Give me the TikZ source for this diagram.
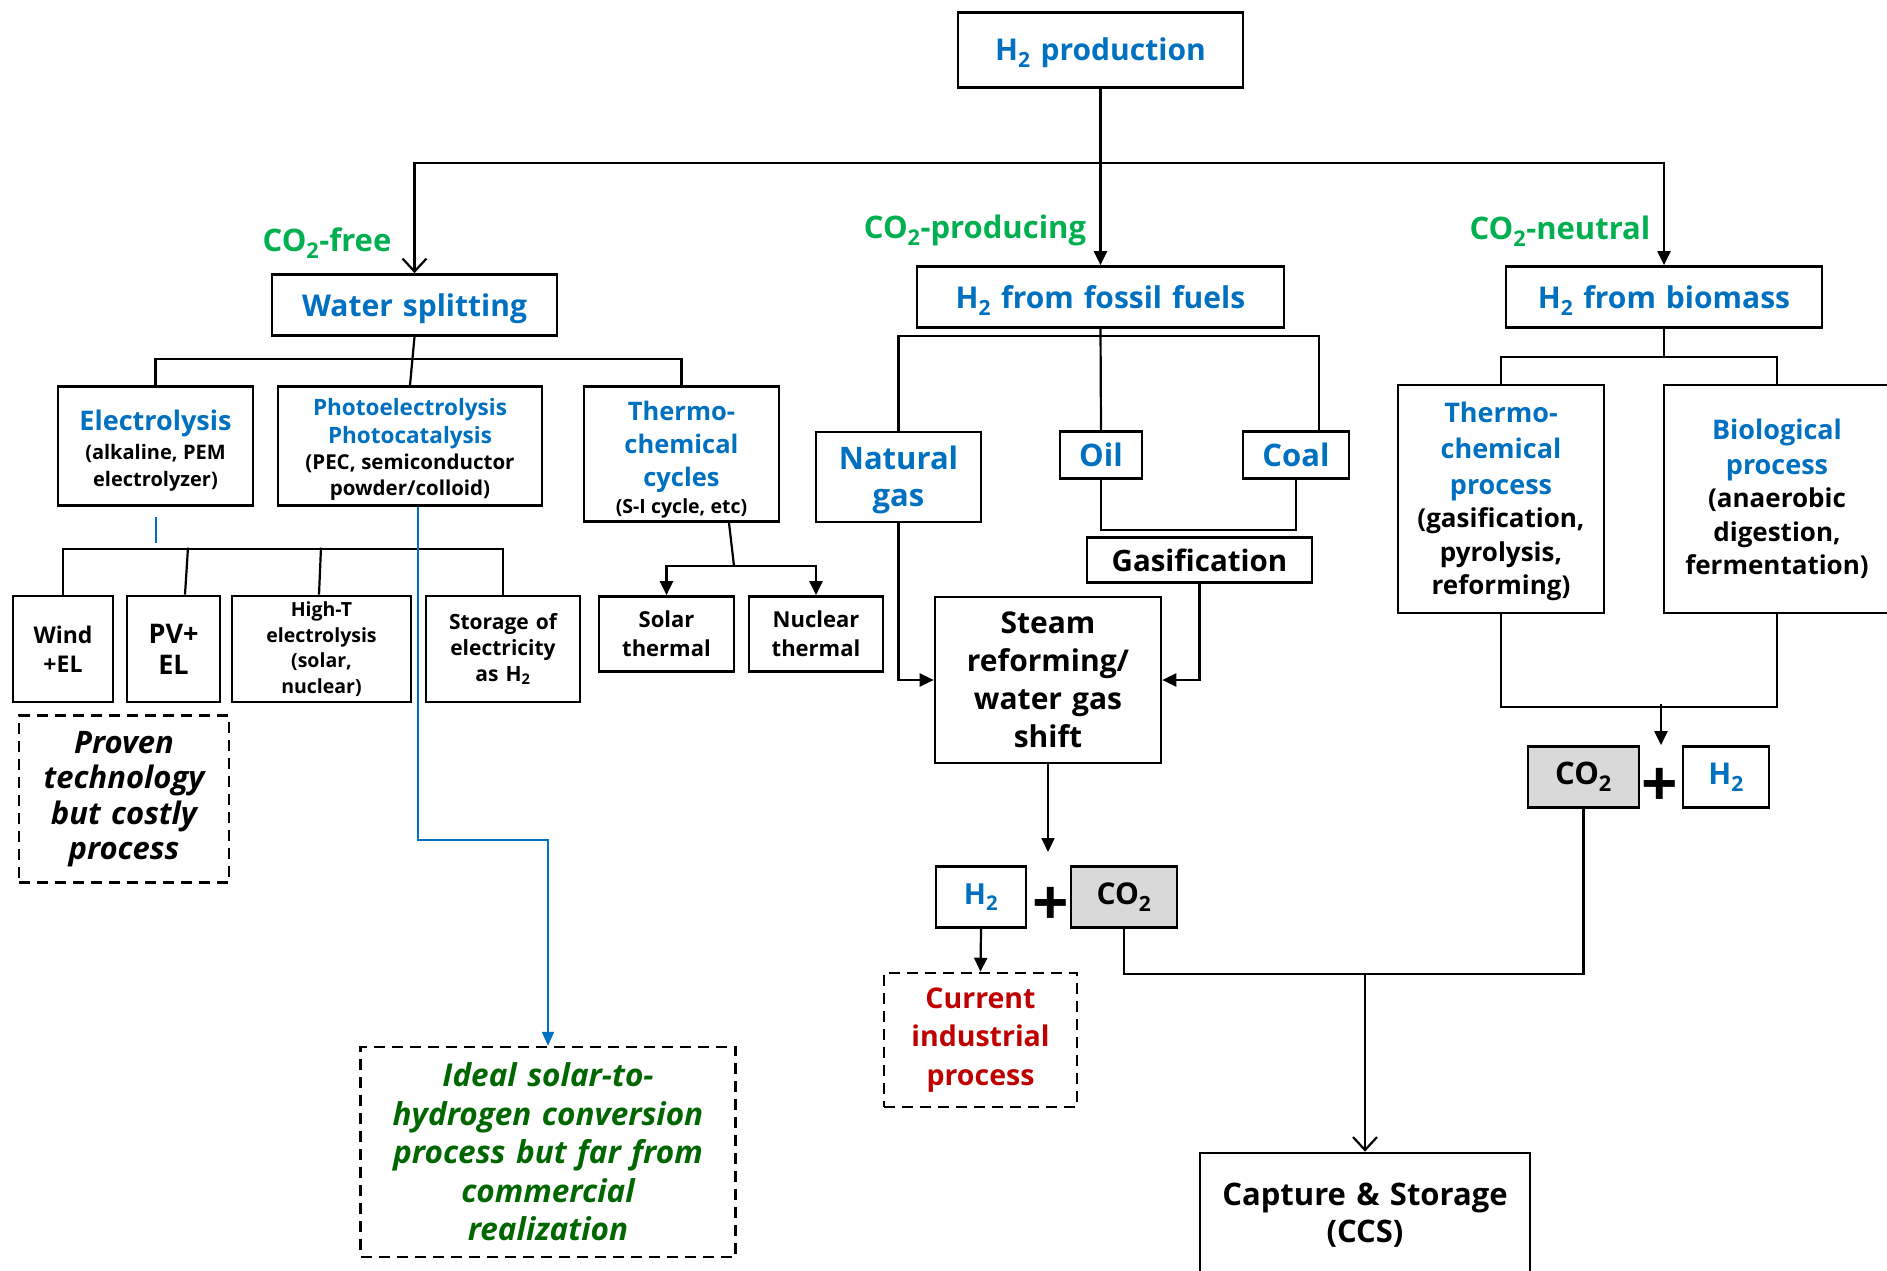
\documentclass[tikz,border=0pt]{standalone}
\usepackage{fontspec}
\setmainfont{Open Sans}
\usetikzlibrary{arrows.meta}
\definecolor{tblue}{HTML}{0070C0}
\definecolor{tgreen}{HTML}{00B050}
\definecolor{dgreen}{HTML}{006600}
\definecolor{tred}{HTML}{C00000}
\definecolor{cgray}{HTML}{D9D9D9}
\newcommand{\fsz}[2]{\fontsize{#1}{#2}\selectfont\spaceskip=0.27em\xspaceskip=0.27em\relax}
\newcommand{\up}[1]{\rule{0pt}{#1pt}}
\begin{document}
\begin{tikzpicture}[x=1pt,y=-1pt,
  box/.style={draw, line width=2.7pt, inner sep=0pt, align=center},
  wh/.style 2 args={minimum width=#1pt, minimum height=#2pt, text width=#1pt},
  dbox/.style={draw, line width=2.5pt, dash pattern=on 11pt off 7pt, inner sep=0pt, align=center},
  conn/.style={line width=2.2pt},
  arr/.style={conn, -{Triangle[length=14pt,width=13pt]}},
  varr/.style={conn, -{Straight Barb[length=13pt,width=24pt,line width=2.2pt]}},
  bl/.style={line width=2pt, draw=tblue},
  blarr/.style={bl, -{Triangle[length=14pt,width=12pt]}},
  lab/.style={text=tgreen, font=\bfseries\fsz{31}{36}},
  plus/.style={font=\bfseries\fsz{64}{64}, inner sep=0pt}
]
\useasboundingbox (0,0) rectangle (1887,1271);
\fill[white] (0,0) rectangle (1887,1271);

% ---- top level
\node[box, wh={285}{75}, text=tblue, font=\bfseries\fsz{30}{36}] (prod) at (1100.5,50) {\up{29}H\textsubscript{2} production};
\node[box, wh={285}{61}, text=tblue, font=\bfseries\fsz{30}{36}] (ws) at (414.5,305) {\up{30}Water splitting};
\node[box, wh={367}{61}, text=tblue, font=\bfseries\fsz{30}{36}] (ff) at (1100.5,297) {\up{30}H\textsubscript{2} from fossil fuels};
\node[box, wh={316}{61}, text=tblue, font=\bfseries\fsz{30}{36}] (bm) at (1664,297) {\up{30}H\textsubscript{2} from biomass};

\node[lab] (lfree) at (327,243) {CO\textsubscript{2}-free};
\node[lab] (lprod) at (975,230) {CO\textsubscript{2}-producing};
\node[lab] (lneut) at (1560,231) {CO\textsubscript{2}-neutral};

% ---- water splitting branch
\node[box, wh={195}{119}, text=tblue, font=\bfseries\fsz{27}{32}] (el) at (155.5,446)
  {\up{30}Electrolysis\par\vspace{2pt}\color{black}\fsz{20}{27}(alkaline, PEM\par electrolyzer)\par};
\node[box, wh={264}{119}, text=tblue, font=\bfseries\fsz{22.5}{28}] (pe) at (410,446)
  {\up{24}Photoelectrolysis\par Photocatalysis\par\color{black}\fsz{20.5}{26}(PEC, semiconductor\par powder/colloid)\par};
\node[box, wh={195}{135}, text=tblue, font=\bfseries\fsz{25.5}{33}] (tc) at (681.5,454)
  {\up{31}Thermo-\par chemical\par cycles\par\color{black}\fsz{19.5}{27}(S-I cycle, etc)\par};

\node[box, wh={100}{106}, font=\bfseries\fsz{23}{29}] (wind) at (63,649) {Wind\par +EL};
\node[box, wh={93}{106}, font=\bfseries\fsz{27}{31}] (pv) at (173.5,649) {PV+\par EL};
\node[box, wh={179}{106}, font=\bfseries\fsz{19.5}{25.5}] (ht) at (321.5,649) {High-T\par electrolysis\par (solar,\par nuclear)};
\node[box, wh={154}{106}, font=\bfseries\fsz{21}{26}] (st) at (503,649) {Storage of\par electricity\par as H\textsubscript{2}};

\node[dbox, minimum width=210pt, minimum height=167pt, text width=210pt, font=\bfseries\itshape\fsz{31}{35.5}] (proven) at (124,799)
  {Proven\par technology\par but costly\par process};
\node[dbox, minimum width=375pt, minimum height=210pt, text width=375pt, text=dgreen, font=\bfseries\itshape\fsz{31.5}{38.5}] (ideal) at (548,1152)
  {Ideal solar-to-\par hydrogen conversion\par process but far from\par commercial\par realization};

\node[box, wh={135}{75}, font=\bfseries\fsz{22}{29}] (solar) at (666.5,634) {Solar\par thermal};
\node[box, wh={134}{75}, font=\bfseries\fsz{22}{29}] (nuc) at (816,634) {Nuclear\par thermal};

% ---- fossil branch
\node[box, wh={165}{90}, text=tblue, font=\bfseries\fsz{31}{37}] (ng) at (898.5,477) {\up{30}Natural\par gas};
\node[box, wh={82}{47}, text=tblue, font=\bfseries\fsz{31}{36}] (oil) at (1101,455) {Oil};
\node[box, wh={106}{47}, text=tblue, font=\bfseries\fsz{31}{36}] (coal) at (1296,455) {Coal};
\node[box, wh={225}{45}, font=\bfseries\fsz{29.5}{34}] (gas) at (1199.5,560) {Gasification};
\node[box, wh={226}{166}, font=\bfseries\fsz{30}{38}] (steam) at (1048,680) {Steam\par reforming/\par water gas\par shift};

\node[box, wh={90}{61}, text=tblue, font=\bfseries\fsz{29}{34}] (h2a) at (981,897) {H\textsubscript{2}};
\node[plus] (plusa) at (1050.5,906) {+};
\node[box, fill=cgray, wh={106}{61}, font=\bfseries\fsz{30}{34}] (co2a) at (1124,897) {CO\textsubscript{2}};
\node[dbox, minimum width=193pt, minimum height=134pt, text width=193pt, text=tred, font=\bfseries\fsz{28.5}{38.5}] (cur) at (980.5,1040)
  {Current\par industrial\par process};
\node[box, wh={330}{124}, font=\bfseries\fsz{31}{37}] (ccs) at (1365,1215) {Capture \& Storage\par (CCS)};

% ---- biomass branch
\node[box, wh={206}{228}, text=tblue, font=\bfseries\fsz{27}{36}] (tcp) at (1501,499)
  {\up{25.5}Thermo-\par chemical\par process\par\color{black}\fsz{26}{33.5}(gasification,\par pyrolysis,\par reforming)\par};
\node[box, wh={226}{228}, text=tblue, font=\bfseries\fsz{27}{35}] (bio) at (1777,499)
  {Biological\par process\par\color{black}\fsz{26}{33.5}(anaerobic\par digestion,\par fermentation)\par};
\node[box, fill=cgray, wh={111}{61}, font=\bfseries\fsz{31}{34}] (co2b) at (1583.5,777) {CO\textsubscript{2}};
\node[plus] (plusb) at (1659.5,787) {+};
\node[box, wh={86}{61}, text=tblue, font=\bfseries\fsz{30}{34}] (h2b) at (1726,777) {H\textsubscript{2}};

% ---- helper coordinates
\coordinate (hub) at (1100.5,163);
\coordinate (yws) at (0,359);
\coordinate (yel) at (0,549);
\coordinate (tcj) at (734,566);
\coordinate (yff) at (0,336);
\coordinate (yoc) at (0,530);
\coordinate (h2in) at (1048,852);
\coordinate (yccs) at (0,974);
\coordinate (ybm) at (0,357);
\coordinate (ybb) at (0,707);
\coordinate (bmj) at (1661,704);
\coordinate (bturn) at (0,840);

% ---- connectors
\draw[arr] (prod.south) -- (ff.north);
\draw[varr] (hub) -| (ws.north);
\draw[arr] (hub) -| (bm.north);

\draw[conn] (ws.south) -- (pe.north);
\draw[conn] (el.north) -- (el.north |- yws) -- (tc.north |- yws) -- (tc.north);

\draw[bl] ([yshift=-10pt]el.south) -- ++(0,26);
\draw[conn] (wind.north) -- (wind.north |- yel) -- (st.north |- yel) -- (st.north);
\draw[conn] ([xshift=11.5pt]pv.north) -- ++(3,-47);
\draw[conn] ([xshift=-2.5pt]ht.north) -- ++(2,-47);

\draw[blarr] ([xshift=8pt]pe.south) -- ([xshift=8pt]pe.south |- bturn) -| (ideal.north);

\draw[conn] ([xshift=47.5pt]tc.south) -- (tcj);
\draw[arr] (tcj) -| (solar.north);
\draw[arr] (tcj) -| (nuc.north);

\draw[conn] (ff.south) -- (oil.north);
\draw[conn] (ng.north) |- ([xshift=23pt]coal.north |- yff) -- ([xshift=23pt]coal.north);
\draw[conn] (oil.south) |- (coal.south |- yoc) -- (coal.south);
\draw[arr] (gas.south) |- (steam.east);
\draw[arr] (ng.south) |- (steam.west);
\draw[arr] (steam.south) -- (h2in);

\draw[arr] (h2a.south) -- (cur.north);
\draw[conn] (co2a.south) |- (co2b.south |- yccs) -- (co2b.south);
\draw[varr] (ccs.north |- yccs) -- (ccs.north);

\draw[conn] (bm.south) -- (bm.south |- ybm);
\draw[conn] (tcp.north) |- (bio.north |- ybm) -- (bio.north);
\draw[conn] (tcp.south) |- (bio.south |- ybb) -- (bio.south);
\draw[arr] (bmj) -- (bmj |- co2b.north);
\end{tikzpicture}
\end{document}
